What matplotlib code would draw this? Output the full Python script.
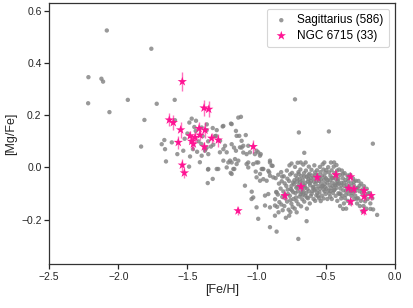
import numpy as np
import matplotlib
matplotlib.use("Agg")
import matplotlib.pyplot as plt

# Sagittarius field stars ([Fe/H], [Mg/Fe])
sgr_pts = [
    # sparse metal-poor tail
    (-2.083, 0.525), (-1.761, 0.455), (-2.216, 0.346), (-2.122, 0.340), (-2.110, 0.329),
    (-2.218, 0.246), (-1.931, 0.259), (-1.722, 0.244), (-1.592, 0.259), (-2.064, 0.212),
    (-1.811, 0.182), (-1.835, 0.080), (-0.722, 0.261),
    # cloud around [Fe/H] = -1.5
    (-1.469, 0.187), (-1.486, 0.172), (-1.438, 0.179), (-1.590, 0.181), (-1.667, 0.105),
    (-1.613, 0.096), (-1.686, 0.089), (-1.662, 0.070), (-1.573, 0.051), (-1.481, 0.042),
    (-1.530, 0.064), (-1.655, 0.023), (-1.488, 0.003), (-1.397, 0.045), (-1.349, 0.051),
    (-1.351, -0.008), (-1.288, -0.006), (-1.317, -0.044), (-1.353, -0.060), (-1.50, 0.13),
    (-1.44, 0.14), (-1.42, 0.10), (-1.46, 0.07), (-1.40, 0.09), (-1.35, 0.10), (-1.33, 0.08),
    (-1.30, 0.12), (-1.52, 0.11), (-1.43, 0.06), (-1.37, 0.07), (-1.39, 0.12), (-1.45, 0.155),
    (-1.36, 0.165), (-1.41, 0.02), (-1.397, 0.153), (-1.361, 0.143), (-1.317, 0.151),
    (-1.288, 0.143), (-1.240, 0.159), (-1.293, 0.121), (-1.264, 0.102), (-1.313, 0.087),
    (-1.361, 0.076), (-1.373, 0.064), (-1.349, -0.006), (-1.277, -0.006), (-1.216, 0.000),
    # transition region
    (-1.180, 0.166), (-1.245, 0.157), (-1.185, 0.168), (-1.132, 0.191), (-1.113, 0.194),
    (-1.149, 0.140), (-1.144, 0.121), (-1.125, 0.121), (-1.078, 0.124), (-1.108, 0.102),
    (-1.180, 0.089), (-1.228, 0.083), (-1.240, 0.070), (-1.265, 0.058), (-1.216, 0.058),
    (-1.149, 0.064), (-1.120, 0.077), (-1.096, 0.083), (-1.163, 0.076), (-1.108, 0.076),
    (-1.096, 0.057), (-1.060, 0.083), (-1.048, 0.058), (-1.012, 0.051), (-0.988, 0.058),
    (-0.970, 0.051), (-0.975, 0.045), (-1.000, 0.064), (-1.072, 0.051), (-1.240, 0.026),
    (-1.192, 0.026), (-1.156, 0.032), (-1.144, 0.013), (-1.132, 0.026), (-1.180, 0.019),
    (-1.204, 0.019), (-1.072, 0.013), (-1.060, 0.000), (-1.060, 0.019), (-1.024, 0.013),
    (-0.988, 0.019), (-1.000, 0.019), (-0.903, 0.026), (-0.891, 0.007), (-0.903, 0.019),
    (-0.884, 0.006), (-0.951, -0.006), (-0.915, -0.013), (-0.956, -0.006), (-0.975, -0.025),
    (-1.000, -0.038), (-0.903, -0.032), (-0.879, -0.038), (-0.951, -0.045), (-0.927, -0.051),
    (-0.975, -0.051), (-1.084, -0.070), (-1.035, -0.093), (-1.036, -0.121), (-1.024, -0.115),
    (-1.000, -0.153), (-0.988, -0.197), (-0.939, -0.108), (-0.939, -0.146), (-0.915, -0.102),
    (-0.903, -0.153), (-0.867, -0.146), (-0.855, -0.096), (-0.867, -0.185), (-0.903, -0.229),
    (-0.855, -0.246), (-1.168, -0.006), (-1.180, -0.025), (-1.187, -0.021), (-1.161, -0.006),
    (-1.006, -0.016), (-0.963, -0.006), (-0.908, -0.019), (-0.747, 0.015), (-0.681, 0.019),
    # outliers around the main clump
    (-0.694, 0.134), (-0.477, 0.138), (-0.159, 0.091), (-0.655, 0.056), (-0.645, 0.019),
    (-0.698, -0.274), (-0.638, -0.206), (-0.710, -0.172), (-0.764, -0.185), (-0.374, -0.159),
    (-0.176, -0.159), (-0.510, 0.019), (-0.439, 0.019),
    # main metal-rich clump
    (-0.862, -0.041), (-0.858, -0.094), (-0.866, -0.122), (-0.851, -0.151), (-0.843, -0.028),
    (-0.838, -0.062), (-0.846, -0.104), (-0.835, -0.133), (-0.841, -0.172), (-0.822, -0.018),
    (-0.818, -0.053), (-0.826, -0.081), (-0.814, -0.113), (-0.821, -0.142), (-0.811, -0.164),
    (-0.803, -0.034), (-0.797, -0.061), (-0.806, -0.092), (-0.793, -0.118), (-0.799, -0.148),
    (-0.788, -0.193), (-0.781, -0.012), (-0.777, -0.043), (-0.785, -0.071), (-0.772, -0.102),
    (-0.779, -0.131), (-0.768, -0.162), (-0.762, 0.008), (-0.757, -0.027), (-0.765, -0.052),
    (-0.753, -0.083), (-0.759, -0.109), (-0.748, -0.139), (-0.755, -0.171), (-0.743, -0.021),
    (-0.737, -0.058), (-0.745, -0.088), (-0.733, -0.121), (-0.739, -0.152), (-0.722, 0.002),
    (-0.717, -0.031), (-0.726, -0.049), (-0.713, -0.078), (-0.719, -0.098), (-0.711, -0.129),
    (-0.724, -0.158), (-0.703, 0.018), (-0.697, -0.018), (-0.706, -0.042), (-0.693, -0.069),
    (-0.701, -0.091), (-0.689, -0.112), (-0.698, -0.141), (-0.683, -0.008), (-0.677, -0.033),
    (-0.686, -0.057), (-0.672, -0.081), (-0.681, -0.103), (-0.669, -0.122), (-0.678, -0.149),
    (-0.662, 0.011), (-0.657, -0.022), (-0.666, -0.048), (-0.653, -0.071), (-0.661, -0.093),
    (-0.648, -0.108), (-0.655, -0.131), (-0.643, -0.012), (-0.638, -0.036), (-0.646, -0.059),
    (-0.633, -0.082), (-0.641, -0.098), (-0.628, -0.118), (-0.636, -0.158), (-0.622, 0.003),
    (-0.617, -0.024), (-0.626, -0.044), (-0.613, -0.068), (-0.621, -0.091), (-0.608, -0.109),
    (-0.615, -0.138), (-0.603, -0.009), (-0.597, -0.031), (-0.606, -0.052), (-0.593, -0.077),
    (-0.601, -0.101), (-0.588, -0.121), (-0.582, 0.008), (-0.577, -0.019), (-0.586, -0.041),
    (-0.573, -0.063), (-0.581, -0.088), (-0.568, -0.107), (-0.576, -0.128), (-0.563, -0.011),
    (-0.557, -0.029), (-0.566, -0.053), (-0.553, -0.072), (-0.561, -0.097), (-0.548, -0.118),
    (-0.542, 0.002), (-0.537, -0.018), (-0.546, -0.039), (-0.533, -0.061), (-0.541, -0.082),
    (-0.528, -0.108), (-0.536, -0.129), (-0.522, 0.012), (-0.517, -0.008), (-0.526, -0.031),
    (-0.513, -0.049), (-0.521, -0.071), (-0.508, -0.092), (-0.516, -0.119), (-0.503, -0.021),
    (-0.497, -0.042), (-0.506, -0.063), (-0.493, -0.081), (-0.501, -0.102), (-0.488, -0.121),
    (-0.482, 0.001), (-0.477, -0.019), (-0.486, -0.048), (-0.473, -0.068), (-0.481, -0.089),
    (-0.468, -0.112), (-0.462, 0.019), (-0.457, -0.011), (-0.466, -0.032), (-0.453, -0.058),
    (-0.461, -0.079), (-0.448, -0.098), (-0.456, -0.121), (-0.442, 0.003), (-0.437, -0.022),
    (-0.446, -0.041), (-0.433, -0.069), (-0.441, -0.088), (-0.428, -0.109), (-0.422, 0.009),
    (-0.417, -0.012), (-0.426, -0.031), (-0.413, -0.052), (-0.421, -0.078), (-0.408, -0.099),
    (-0.416, -0.128), (-0.403, -0.008), (-0.397, -0.029), (-0.406, -0.061), (-0.393, -0.081),
    (-0.401, -0.102), (-0.388, -0.119), (-0.396, -0.148), (-0.383, -0.012), (-0.377, -0.041),
    (-0.386, -0.059), (-0.373, -0.088), (-0.381, -0.108), (-0.368, -0.138), (-0.363, -0.022),
    (-0.357, -0.048), (-0.366, -0.071), (-0.353, -0.091), (-0.361, -0.118), (-0.352, -0.158),
    (-0.343, -0.031), (-0.337, -0.052), (-0.346, -0.079), (-0.333, -0.101), (-0.341, -0.128),
    (-0.323, -0.028), (-0.317, -0.061), (-0.326, -0.088), (-0.313, -0.109), (-0.321, -0.138),
    (-0.303, -0.042), (-0.297, -0.068), (-0.306, -0.098), (-0.293, -0.121), (-0.283, -0.051),
    (-0.277, -0.079), (-0.286, -0.108), (-0.273, -0.138), (-0.263, -0.052), (-0.257, -0.091),
    (-0.266, -0.118), (-0.253, -0.148), (-0.243, -0.062), (-0.237, -0.098), (-0.246, -0.128),
    (-0.233, -0.168), (-0.223, -0.072), (-0.217, -0.108), (-0.226, -0.148), (-0.203, -0.082),
    (-0.197, -0.121), (-0.206, -0.158), (-0.183, -0.098), (-0.177, -0.138), (-0.163, -0.118),
    (-0.157, -0.161), (-0.128, -0.182),
    (-0.748, -0.071), (-0.728, -0.064), (-0.708, -0.055), (-0.688, -0.046), (-0.668, -0.062),
    (-0.648, -0.078), (-0.628, -0.054), (-0.608, -0.041), (-0.588, -0.074), (-0.568, -0.083),
    (-0.548, -0.052), (-0.528, -0.073), (-0.508, -0.036), (-0.488, -0.058), (-0.468, -0.049),
    (-0.448, -0.071), (-0.428, -0.061), (-0.408, -0.044), (-0.388, -0.069), (-0.368, -0.058),
    (-0.348, -0.066), (-0.328, -0.074), (-0.308, -0.082), (-0.288, -0.091), (-0.268, -0.078),
    (-0.735, -0.095), (-0.715, -0.115), (-0.695, -0.025), (-0.675, -0.095), (-0.655, -0.035),
    (-0.635, -0.115), (-0.615, -0.060), (-0.595, -0.090), (-0.575, -0.030), (-0.555, -0.110),
    (-0.535, -0.045), (-0.515, -0.085), (-0.495, -0.010), (-0.475, -0.100), (-0.455, -0.040),
    (-0.435, -0.085), (-0.415, -0.065), (-0.395, -0.100), (-0.375, -0.025), (-0.355, -0.105),
    (-0.335, -0.040), (-0.315, -0.090), (-0.295, -0.055), (-0.275, -0.120), (-0.255, -0.070),
    (-0.235, -0.085), (-0.215, -0.130), (-0.195, -0.100), (-0.775, -0.085), (-0.795, -0.105),
    (-0.815, -0.035), (-0.755, -0.125), (-0.705, -0.075), (-0.665, -0.105), (-0.625, -0.030),
    (-0.585, -0.055), (-0.545, -0.095), (-0.505, -0.075), (-0.465, -0.090), (-0.425, -0.045),
]
sgr_feh = [p[0] for p in sgr_pts]
sgr_mgfe = [p[1] for p in sgr_pts]

# NGC 6715 (M54) members with [Mg/Fe] uncertainties
ngc_feh = [-1.537, -1.631, -1.602, -1.549, -1.380, -1.346, -1.566, -1.481, -1.469, -1.457,
           -1.445, -1.416, -1.409, -1.373, -1.378, -1.325, -1.277, -1.537, -1.522, -1.134,
           -1.024, -0.795, -0.679, -0.561, -0.426, -0.320, -0.335, -0.296, -0.222, -0.222,
           -0.171, -0.320, -0.224]
ngc_mgfe = [0.329, 0.182, 0.172, 0.144, 0.228, 0.223, 0.096, 0.121, 0.100, 0.090,
            0.115, 0.149, 0.124, 0.143, 0.079, 0.112, 0.105, 0.009, -0.021, -0.166,
            0.080, -0.108, -0.074, -0.038, -0.028, -0.036, -0.080, -0.083, -0.089, -0.112,
            -0.108, -0.131, -0.168]
ngc_err = [0.035, 0.025, 0.030, 0.030, 0.030, 0.030, 0.025, 0.020, 0.030, 0.025,
           0.020, 0.025, 0.020, 0.030, 0.020, 0.020, 0.025, 0.025, 0.020, 0.015,
           0.025, 0.015, 0.015, 0.015, 0.020, 0.015, 0.015, 0.015, 0.015, 0.015,
           0.015, 0.015, 0.015]

plt.rcParams['font.family'] = ['Liberation Sans', 'DejaVu Sans']
plt.rcParams['axes.unicode_minus'] = True

fig = plt.figure(figsize=(4.13, 3.08), dpi=100)
ax = fig.add_axes([0.119, 0.143, 0.837, 0.847])

ax.scatter(sgr_feh, sgr_mgfe, s=10, color='#808080', alpha=0.8, edgecolors='none',
           label='Sagittarius (586)', zorder=2)
ax.errorbar(ngc_feh, ngc_mgfe, yerr=ngc_err, fmt='none', ecolor='#ff1493',
            elinewidth=1.0, alpha=0.6, zorder=3)
ax.scatter(ngc_feh, ngc_mgfe, s=50, marker='*', color='#ff1493', edgecolors='none',
           label='NGC 6715 (33)', zorder=4)

ax.set_xlim(-2.5, 0.0)
ax.set_ylim(-0.37, 0.63)
ax.set_xticks([-2.5, -2.0, -1.5, -1.0, -0.5, 0.0])
ax.set_yticks([-0.2, 0.0, 0.2, 0.4, 0.6])
ax.set_xlabel('[Fe/H]', fontsize=9, color='#262626', labelpad=2)
ax.set_ylabel('[Mg/Fe]', fontsize=9, color='#262626', labelpad=3)
ax.tick_params(direction='out', length=3.5, width=0.9, labelsize=7.5,
               colors='#262626', pad=2)
for sp in ax.spines.values():
    sp.set_color('#333333')
    sp.set_linewidth(0.9)

leg = ax.legend(loc='upper right', fontsize=8.5, frameon=True, borderpad=0.45,
                handletextpad=0.6, labelspacing=0.3, handlelength=1.5)
leg.get_frame().set_edgecolor('#cccccc')
leg.get_frame().set_linewidth(0.8)

fig.savefig('out.png', dpi=100)
